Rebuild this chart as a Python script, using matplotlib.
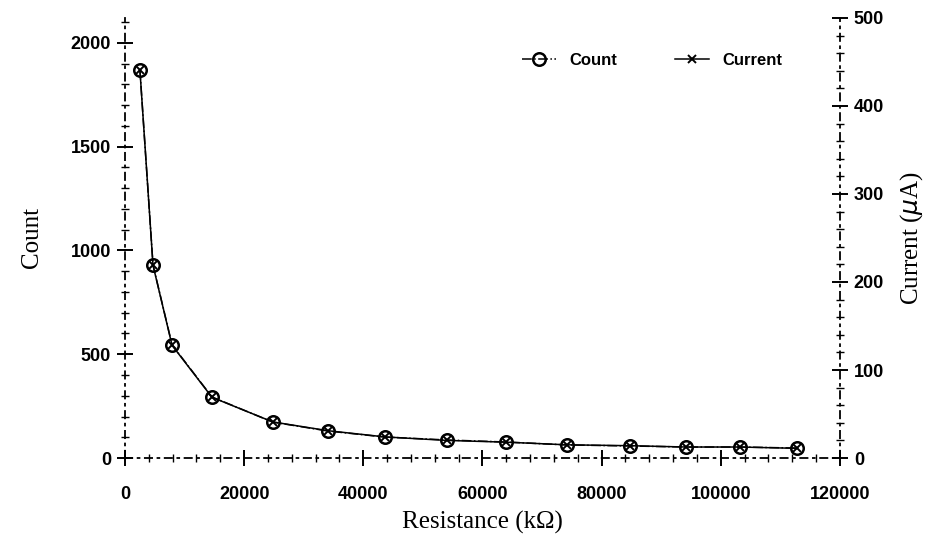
import matplotlib
matplotlib.use("Agg")
import matplotlib.pyplot as plt
from matplotlib.ticker import MultipleLocator

resistance = [2500, 4700, 7900, 14600, 24800, 34100, 43600, 54000, 64000, 74200, 84800, 94200, 103200, 112800]
count = [1870, 930, 545, 294, 173, 130, 101, 87, 77, 63, 58, 53, 53, 48]
current = [441, 219, 128, 69, 41, 31, 24, 20, 18, 15, 14, 12.5, 12.5, 11]

x_ticks = [0, 20000, 40000, 60000, 80000, 100000, 120000]
count_ticks = [0, 500, 1000, 1500, 2000]
current_ticks = [0, 100, 200, 300, 400, 500]

tick_font = dict(family="Liberation Sans", weight="bold", size=13)
label_font = dict(family="Liberation Serif", size=18)

fig = plt.figure(figsize=(9.26, 5.43), dpi=100)
ax = fig.add_axes([0.135, 0.1565, 0.772, 0.8105])
ax2 = ax.twinx()

ax.plot(resistance, count, linestyle="-.", color="black", lw=1.1,
        marker="o", markersize=9, markerfacecolor="none", markeredgewidth=1.8,
        label="Count")
ax2.plot(resistance, current, linestyle="-", color="black", lw=1.1,
         marker="x", markersize=6, markeredgewidth=1.4, label="Current")

ax.set_xlim(0, 120000)
ax.set_ylim(0, 2120)
ax2.set_ylim(0, 500)

ax.set_xticks(x_ticks)
ax.set_xticklabels([str(v) for v in x_ticks], fontdict=tick_font)
ax.set_yticks(count_ticks)
ax.set_yticklabels([str(v) for v in count_ticks], fontdict=tick_font)
ax2.set_yticks(current_ticks)
ax2.set_yticklabels([str(v) for v in current_ticks], fontdict=tick_font)

ax.xaxis.set_minor_locator(MultipleLocator(4000))
ax.yaxis.set_minor_locator(MultipleLocator(100))
ax2.yaxis.set_minor_locator(MultipleLocator(20))

for a in (ax, ax2):
    a.tick_params(which="major", direction="inout", length=12, width=1.4, colors="black", pad=4)
    a.tick_params(which="minor", direction="inout", length=6, width=1.0)
    for s in a.spines.values():
        s.set_visible(False)
ax.tick_params(axis="x", which="both", top=False)
ax.tick_params(axis="x", which="major", pad=14)

ax.spines["left"].set_visible(True)
ax.spines["bottom"].set_visible(True)
ax2.spines["right"].set_visible(True)
for s in (ax.spines["left"], ax.spines["bottom"], ax2.spines["right"]):
    s.set_linestyle((0, (4, 3, 1, 3)))
    s.set_linewidth(1.3)

ax.set_xlabel("Resistance (k\u03a9)", fontdict=label_font, labelpad=6)
ax.set_ylabel("Count", fontdict=label_font, labelpad=20)
ax2.set_ylabel("Current ($\\mu$A)", fontdict=label_font, labelpad=10)

h1, l1 = ax.get_legend_handles_labels()
h2, l2 = ax2.get_legend_handles_labels()
leg = ax.legend(h1 + h2, l1 + l2, loc="upper left", bbox_to_anchor=(0.535, 0.955),
                ncol=2, frameon=False, columnspacing=3.5, handlelength=2.0,
                prop=dict(family="Liberation Sans", weight="bold", size=12))

fig.savefig("out.png", dpi=100)
